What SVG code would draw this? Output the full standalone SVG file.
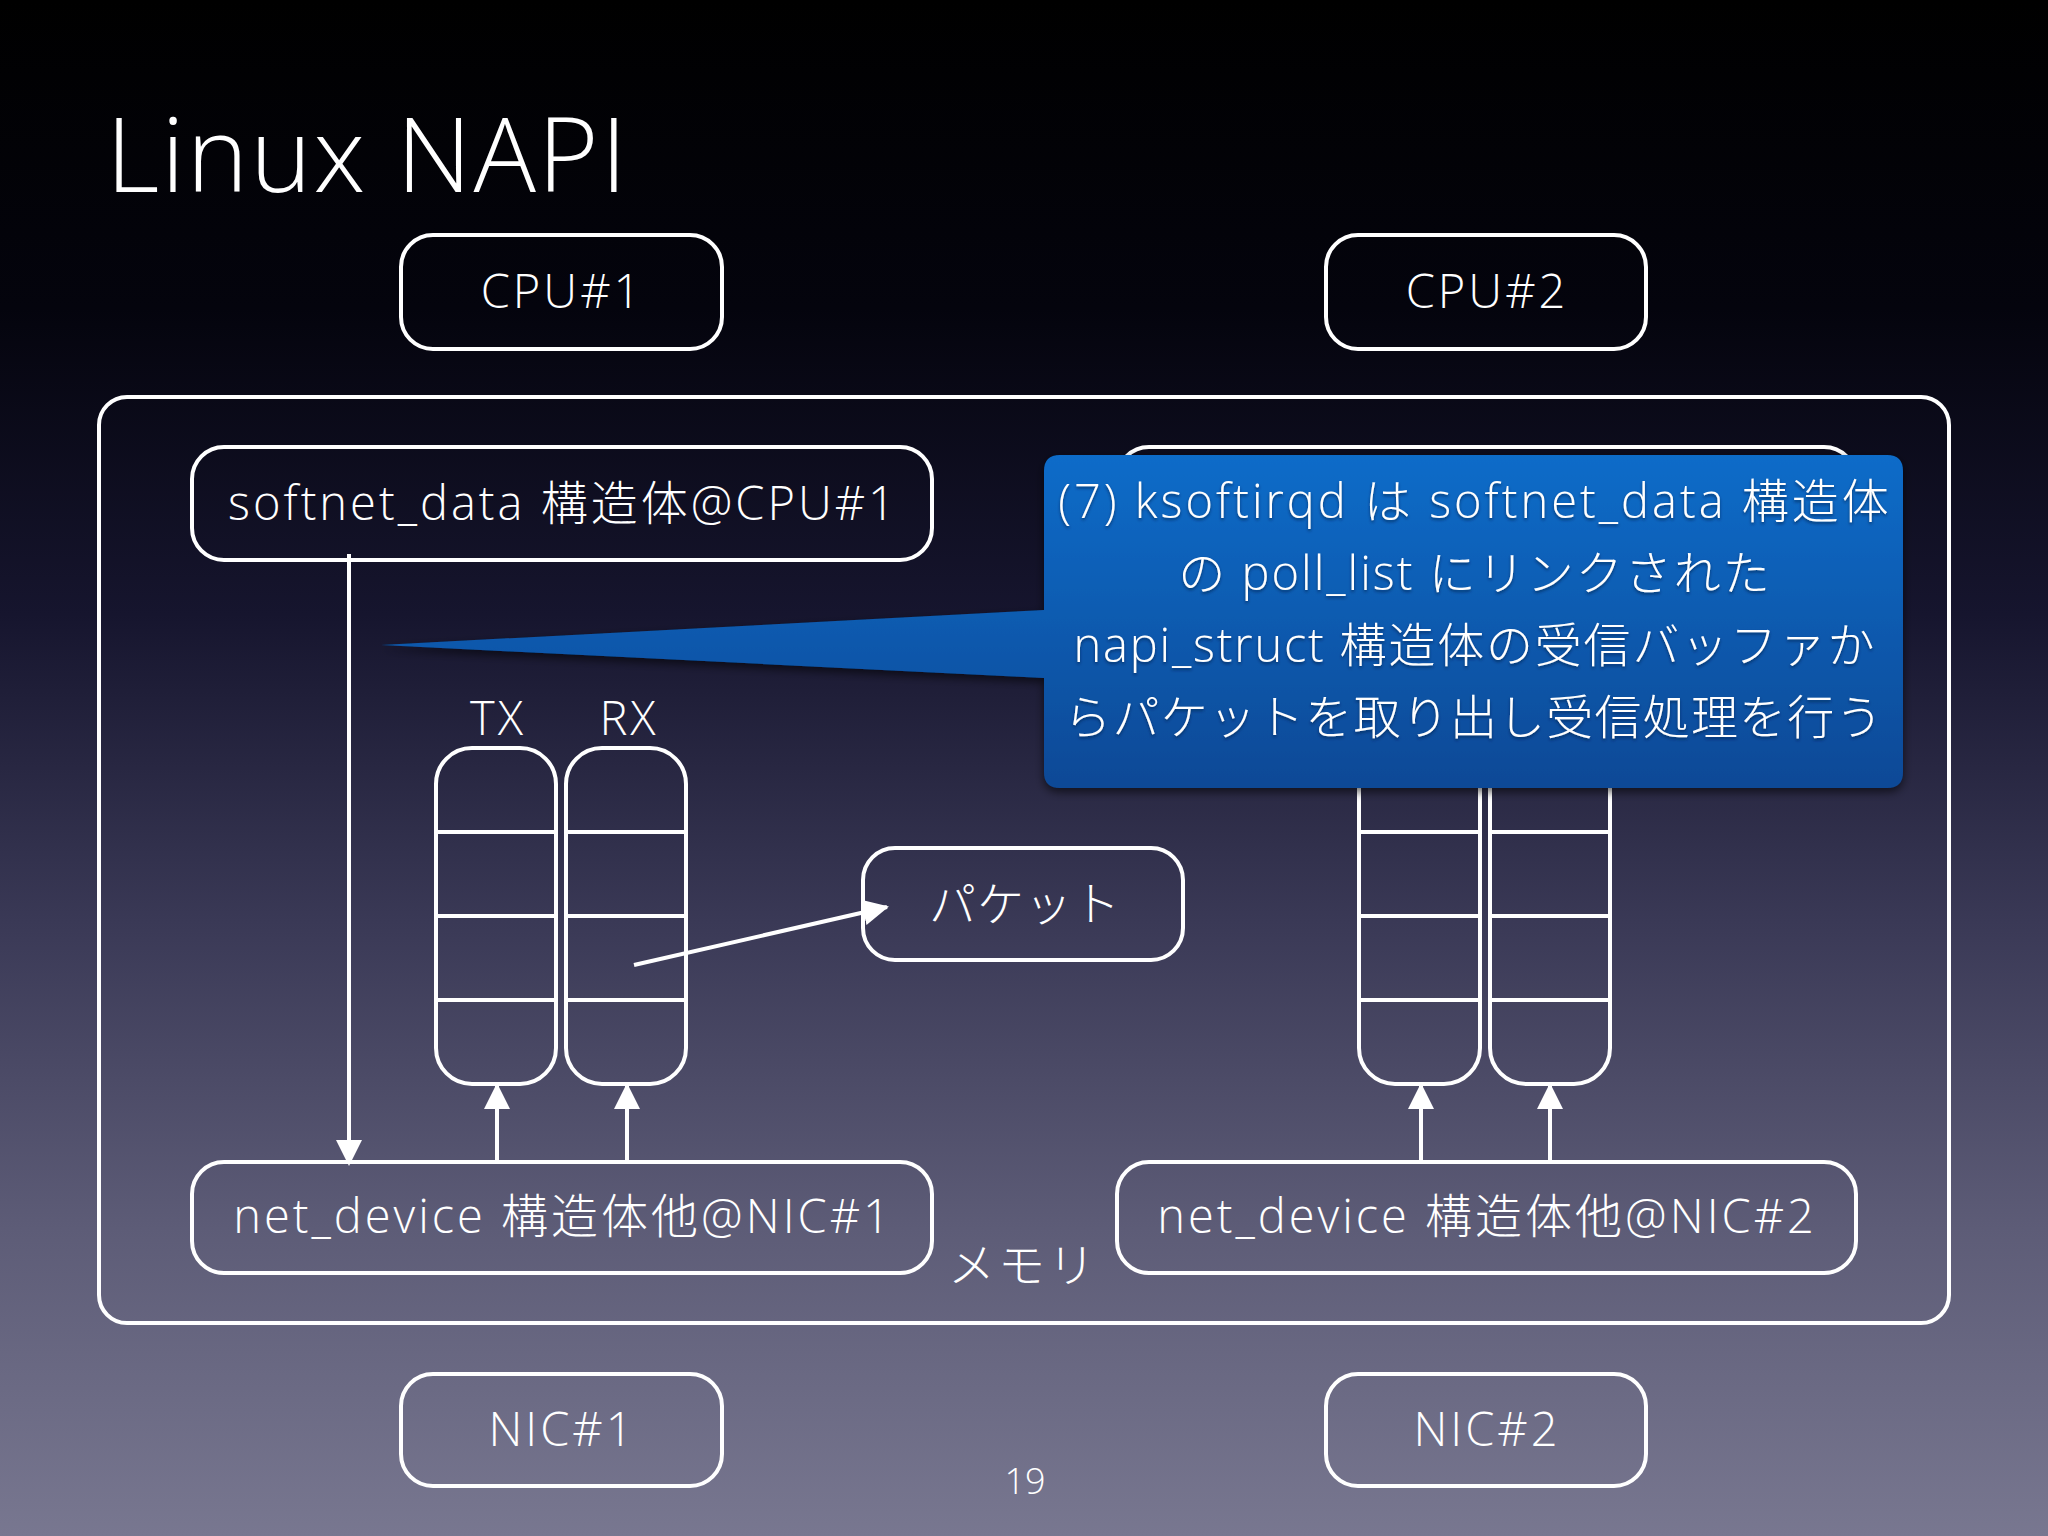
<svg xmlns="http://www.w3.org/2000/svg" width="2048" height="1536" viewBox="0 0 2048 1536">
  <defs>
    <linearGradient id="bg" x1="0" y1="0" x2="0" y2="1536" gradientUnits="userSpaceOnUse">
      <stop offset="0" stop-color="#000000"/>
      <stop offset="0.2" stop-color="#04040d"/>
      <stop offset="0.4" stop-color="#16152e"/>
      <stop offset="0.6" stop-color="#3a3956"/>
      <stop offset="0.8" stop-color="#5d5c77"/>
      <stop offset="1" stop-color="#787790"/>
    </linearGradient>
    <linearGradient id="callout" x1="0" y1="455" x2="0" y2="788" gradientUnits="userSpaceOnUse">
      <stop offset="0" stop-color="#0b6cc9"/>
      <stop offset="1" stop-color="#0a4996"/>
    </linearGradient>
    <filter id="shadow" x="-5%" y="-10%" width="110%" height="125%">
      <feDropShadow dx="0" dy="4" stdDeviation="5" flood-color="#000000" flood-opacity="0.6"/>
    </filter>
    <filter id="tshadow" x="-5%" y="-20%" width="110%" height="150%">
      <feDropShadow dx="0" dy="2" stdDeviation="1.5" flood-color="#002050" flood-opacity="0.7"/>
    </filter>
    <marker id="arrow" viewBox="0 0 26 26" refX="24" refY="13" markerWidth="26" markerHeight="26" markerUnits="userSpaceOnUse" orient="auto">
      <path d="M0,0 L26,13 L0,26 Z" fill="#ffffff"/>
    </marker>
    <style>
      .box { fill: none; stroke: #ffffff; stroke-width: 4; }
      .line { fill: none; stroke: #ffffff; stroke-width: 4; }
      .txt { fill: #ffffff; font-family: "Open Sans", "Noto Sans CJK JP", sans-serif; font-weight: 300; font-size: 47px; letter-spacing: 3px; text-anchor: middle; }
      .title { fill: #ffffff; font-family: "Open Sans", "Noto Sans CJK JP", sans-serif; font-weight: 300; font-size: 104px; letter-spacing: 2px; }
      .page { fill: #ffffff; font-family: "Open Sans", "Noto Sans CJK JP", sans-serif; font-weight: 300; font-size: 36px; text-anchor: middle; }
    </style>
  </defs>

  <rect x="0" y="0" width="2048" height="1536" fill="url(#bg)"/>

  <text class="title" x="106" y="192">Linux NAPI</text>

  <g id="cpu1">
    <rect class="box" x="401" y="235" width="321" height="114" rx="32"/>
    <text class="txt" x="562" y="308">CPU#1</text>
  </g>
  <g id="cpu2">
    <rect class="box" x="1326" y="235" width="320" height="114" rx="32"/>
    <text class="txt" x="1487" y="308">CPU#2</text>
  </g>

  <g id="memory">
    <rect class="box" x="99" y="397" width="1850" height="926" rx="28"/>
    <text class="txt" x="1023" y="1282">メモリ</text>
  </g>

  <g id="softnet1">
    <rect class="box" x="192" y="447" width="740" height="113" rx="32"/>
    <text class="txt" x="563" y="520">softnet_data 構造体@CPU#1</text>
  </g>
  <g id="softnet2">
    <rect class="box" x="1117" y="447" width="739" height="113" rx="32"/>
  </g>

  <g id="queues1">
    <text class="txt" x="498" y="735">TX</text>
    <text class="txt" x="629" y="735">RX</text>
    <rect class="box" x="436" y="748" width="120" height="336" rx="36"/>
    <rect class="box" x="566" y="748" width="120" height="336" rx="36"/>
    <path class="line" d="M438,832 H554 M438,916 H554 M438,1000 H554 M568,832 H684 M568,916 H684 M568,1000 H684"/>
  </g>
  <g id="queues2">
    <rect class="box" x="1359" y="748" width="121" height="336" rx="36"/>
    <rect class="box" x="1490" y="748" width="120" height="336" rx="36"/>
    <path class="line" d="M1361,832 H1478 M1361,916 H1478 M1361,1000 H1478 M1492,832 H1608 M1492,916 H1608 M1492,1000 H1608"/>
  </g>

  <g id="packet">
    <rect class="box" x="863" y="848" width="320" height="112" rx="32"/>
    <text class="txt" x="1025" y="921" style="letter-spacing:1px">パケット</text>
  </g>

  <g id="netdev1">
    <rect class="box" x="192" y="1162" width="740" height="111" rx="32"/>
    <text class="txt" x="563" y="1233">net_device 構造体他@NIC#1</text>
  </g>
  <g id="netdev2">
    <rect class="box" x="1117" y="1162" width="739" height="111" rx="32"/>
    <text class="txt" x="1487" y="1233">net_device 構造体他@NIC#2</text>
  </g>

  <g id="nic1">
    <rect class="box" x="401" y="1374" width="321" height="112" rx="32"/>
    <text class="txt" x="562" y="1446">NIC#1</text>
  </g>
  <g id="nic2">
    <rect class="box" x="1326" y="1374" width="320" height="112" rx="32"/>
    <text class="txt" x="1487" y="1446">NIC#2</text>
  </g>

  <g id="connectors">
    <line class="line" x1="349" y1="554" x2="349" y2="1164" marker-end="url(#arrow)"/>
    <line class="line" x1="497" y1="1162" x2="497" y2="1085" marker-end="url(#arrow)"/>
    <line class="line" x1="627" y1="1162" x2="627" y2="1085" marker-end="url(#arrow)"/>
    <line class="line" x1="1421" y1="1162" x2="1421" y2="1085" marker-end="url(#arrow)"/>
    <line class="line" x1="1550" y1="1162" x2="1550" y2="1085" marker-end="url(#arrow)"/>
    <line class="line" x1="634" y1="965" x2="887" y2="907" stroke-width="5" marker-end="url(#arrow)"/>
  </g>

  <g id="callout">
    <path d="M1060,455 H1887 Q1903,455 1903,471 V772 Q1903,788 1887,788 H1060 Q1044,788 1044,772 V678 L381,645 L1044,610 V471 Q1044,455 1060,455 Z" fill="url(#callout)" filter="url(#shadow)"/>
    <g filter="url(#tshadow)">
      <text class="txt" x="1475" y="518">(7) ksoftirqd は softnet_data 構造体</text>
      <text class="txt" x="1475" y="590" style="letter-spacing:2px">の poll_list にリンクされた</text>
      <text class="txt" x="1475" y="662" style="letter-spacing:1.8px">napi_struct 構造体の受信バッファか</text>
      <text class="txt" x="1474" y="734" style="letter-spacing:1.2px">らパケットを取り出し受信処理を行う</text>
    </g>
  </g>

  <text class="page" x="1025" y="1494">19</text>
</svg>
